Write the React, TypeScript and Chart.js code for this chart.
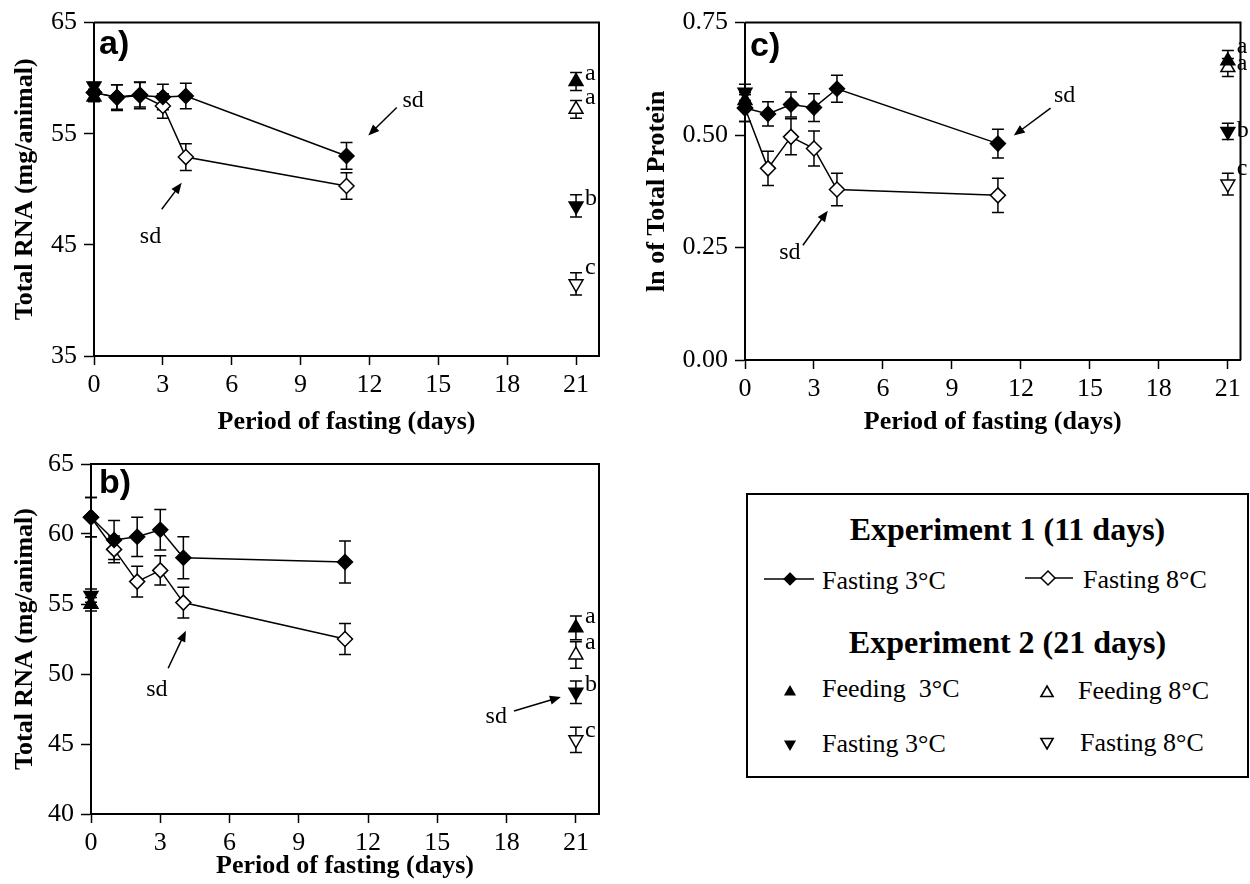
import React, { useEffect, useRef } from "react";
import { Chart, registerables } from "chart.js";
Chart.register(...registerables);

const SERIF = '"Liberation Serif", "Times New Roman", Times, serif';
const SANS = '"Liberation Sans", Arial, Helvetica, sans-serif';

// ---- data ----
const exp1Days = [0, 1, 2, 3, 4, 11];
const exp2DaysFilled = [0, 21];
const exp2DaysOpen = [21];
const lastDay = 21;

// panel a) Total RNA (mg/animal)
const aFast3 = [58.7, 58.25, 58.45, 58.3, 58.4, 53.0];
const aFast3Err = [0.8, 1.15, 1.2, 1.15, 1.15, 1.2];
const aFast8 = [58.7, 58.3, 58.5, 57.5, 52.9, 50.3];
const aFast8Err = [0.8, 1.1, 1.1, 1.1, 1.2, 1.2];
const aFeed3 = [58.3, 59.7];
const aFeed3Err = [0.3, 0.8];
const aFeed8 = [57.2];
const aFeed8Err = [0.8];
const aFastE3 = [59.3, 48.5];
const aFastE3Err = [0.3, 1.0];
const aFastE8 = [41.5];
const aFastE8Err = [1.0];
const aLetters = ["a", "a", "b", "c"];
const aLetterY = [59.87, 57.65, 48.6, 42.35];
const aSdText = [[13.9, 58.0], [2.46, 45.7]];
const aSdFrom = [[13.19, 57.36], [2.95, 48.21]];
const aSdTo = [[11.95, 54.85], [3.82, 50.58]];

// panel b) Total RNA (mg/animal)
const bFast3 = [61.2, 59.57, 59.8, 60.3, 58.3, 58.0];
const bFast3Err = [1.4, 1.4, 1.4, 1.45, 1.5, 1.5];
const bFast8 = [61.2, 58.9, 56.6, 57.4, 55.1, 52.5];
const bFast8Err = [1.4, 0.95, 1.1, 1.05, 1.1, 1.1];
const bFeed3 = [54.98, 53.3];
const bFeed3Err = [0.48, 0.85];
const bFeed8 = [51.36];
const bFeed8Err = [0.95];
const bFastE3 = [55.6, 48.7];
const bFastE3Err = [0.48, 0.8];
const bFastE8 = [45.3];
const bFastE8Err = [0.9];
const bLetters = ["a", "a", "b", "c"];
const bLetterY = [53.64, 51.79, 48.79, 45.5];
const bSdText = [[2.85, 48.86], [17.55, 46.93]];
const bSdFrom = [[3.34, 50.41], [18.32, 47.36]];
const bSdTo = [[4.11, 53.09], [20.35, 48.36]];

// panel c) ln of Total Protein
const cFast3 = [0.56, 0.547, 0.568, 0.561, 0.603, 0.481];
const cFast3Err = [0.03, 0.027, 0.028, 0.031, 0.03, 0.032];
const cFast8 = [0.56, 0.426, 0.496, 0.47, 0.379, 0.366];
const cFast8Err = [0.03, 0.038, 0.04, 0.039, 0.036, 0.038];
const cFeed3 = [0.577, 0.665];
const cFeed3Err = [0.018, 0.023];
const cFeed8 = [0.65];
const cFeed8Err = [0.02];
const cFastE3 = [0.595, 0.508];
const cFastE3Err = [0.018, 0.018];
const cFastE8 = [0.391];
const cFastE8Err = [0.024];
const cLetters = ["a", "a", "b", "c"];
const cLetterY = [0.682, 0.645, 0.496, 0.411];
const cSdText = [[1.95, 0.238], [13.9, 0.588]];
const cSdFrom = [[2.52, 0.255], [13.29, 0.56]];
const cSdTo = [[3.6, 0.332], [11.69, 0.499]];

const xTitle = "Period of fasting (days)";

// ---- helpers ----
function pts(xs: number[], ys: number[]) {
  return xs.map((x, i) => ({ x, y: ys[i] }));
}

const decorPlugin = {
  id: "decor",
  beforeDatasetsDraw(chart: any) {
    const ctx = chart.ctx;
    const xS = chart.scales.x;
    const yS = chart.scales.y;
    ctx.save();
    ctx.strokeStyle = "#000";
    ctx.lineWidth = 1.5;
    chart.data.datasets.forEach((ds: any) => {
      if (!ds.errors) return;
      ds.data.forEach((p: any, j: number) => {
        const e = ds.errors[j];
        if (!e) return;
        const px = xS.getPixelForValue(p.x);
        const y1 = yS.getPixelForValue(p.y + e);
        const y2 = yS.getPixelForValue(p.y - e);
        ctx.beginPath();
        ctx.moveTo(px, y1);
        ctx.lineTo(px, y2);
        ctx.moveTo(px - 6, y1);
        ctx.lineTo(px + 6, y1);
        ctx.moveTo(px - 6, y2);
        ctx.lineTo(px + 6, y2);
        ctx.stroke();
      });
    });
    ctx.restore();
  },
  afterDraw(chart: any, _args: any, opts: any) {
    const ctx = chart.ctx;
    const xS = chart.scales.x;
    const yS = chart.scales.y;
    const area = chart.chartArea;
    ctx.save();
    // frame top & right
    ctx.strokeStyle = "#000";
    ctx.lineWidth = 2;
    ctx.beginPath();
    ctx.moveTo(area.left, area.top);
    ctx.lineTo(area.right, area.top);
    ctx.lineTo(area.right, area.bottom);
    ctx.stroke();
    // panel label
    ctx.fillStyle = "#000";
    ctx.font = `bold 34px ${SANS}`;
    ctx.textAlign = "left";
    ctx.textBaseline = "alphabetic";
    ctx.fillText(opts.label, area.left + opts.labelDx, area.top + opts.labelDy);
    // significance letters
    ctx.font = `24px ${SERIF}`;
    (opts.letters as string[]).forEach((t, i) => {
      ctx.fillText(t, xS.getPixelForValue(lastDay) + 9, yS.getPixelForValue(opts.letterY[i]));
    });
    // sd annotations
    ctx.textAlign = "center";
    ctx.textBaseline = "middle";
    (opts.sdText as number[][]).forEach((tp, i) => {
      ctx.font = `24px ${SERIF}`;
      ctx.fillText("sd", xS.getPixelForValue(tp[0]), yS.getPixelForValue(tp[1]));
      const x1 = xS.getPixelForValue(opts.sdFrom[i][0]);
      const y1 = yS.getPixelForValue(opts.sdFrom[i][1]);
      const x2 = xS.getPixelForValue(opts.sdTo[i][0]);
      const y2 = yS.getPixelForValue(opts.sdTo[i][1]);
      const ang = Math.atan2(y2 - y1, x2 - x1);
      const hl = 11;
      const hw = 4.5;
      ctx.lineWidth = 1.5;
      ctx.beginPath();
      ctx.moveTo(x1, y1);
      ctx.lineTo(x2 - Math.cos(ang) * hl * 0.8, y2 - Math.sin(ang) * hl * 0.8);
      ctx.stroke();
      const bx = x2 - Math.cos(ang) * hl;
      const by = y2 - Math.sin(ang) * hl;
      ctx.beginPath();
      ctx.moveTo(x2, y2);
      ctx.lineTo(bx - Math.sin(ang) * hw, by + Math.cos(ang) * hw);
      ctx.lineTo(bx + Math.sin(ang) * hw, by - Math.cos(ang) * hw);
      ctx.closePath();
      ctx.fill();
    });
    ctx.restore();
  },
};

type Spec = {
  fast3: number[]; fast3Err: number[];
  fast8: number[]; fast8Err: number[];
  feed3: number[]; feed3Err: number[];
  feed8: number[]; feed8Err: number[];
  fastE3: number[]; fastE3Err: number[];
  fastE8: number[]; fastE8Err: number[];
  letters: string[]; letterY: number[];
  sdText: number[][]; sdFrom: number[][]; sdTo: number[][];
  yMin: number; yMax: number; yStep: number; decimals: number;
  xMax: number; yTitle: string; label: string; labelDx: number; labelDy: number;
  padTop: number; padRight: number; yWidth: number; xHeight: number; yTitlePad: number; xTitlePad: number;
};

function makeConfig(s: Spec): any {
  const common = { clip: false, borderColor: "#000", pointBorderColor: "#000", pointBorderWidth: 1.5, pointHoverRadius: 8 };
  const diamond = { ...common, showLine: true, borderWidth: 1.5, pointStyle: "rectRot", pointRadius: 7.5 };
  const tri = { ...common, showLine: false, pointStyle: "triangle", pointRadius: 8 };
  const tickFont = { family: SERIF, size: 26 };
  const titleFont = { family: SERIF, size: 26, weight: "bold", lineHeight: 1 };
  return {
    type: "scatter",
    data: {
      datasets: [
        { ...diamond, label: "Fasting 3°C", data: pts(exp1Days, s.fast3), errors: s.fast3Err, pointBackgroundColor: "#000" },
        { ...diamond, label: "Fasting 8°C", data: pts(exp1Days, s.fast8), errors: s.fast8Err, pointBackgroundColor: "#fff" },
        { ...tri, label: "Feeding 3°C", data: pts(exp2DaysFilled, s.feed3), errors: s.feed3Err, pointBackgroundColor: "#000" },
        { ...tri, label: "Feeding 8°C", data: pts(exp2DaysOpen, s.feed8), errors: s.feed8Err, pointBackgroundColor: "#fff" },
        { ...tri, label: "Fasting 3°C (exp. 2)", data: pts(exp2DaysFilled, s.fastE3), errors: s.fastE3Err, pointBackgroundColor: "#000", pointRotation: 180 },
        { ...tri, label: "Fasting 8°C (exp. 2)", data: pts(exp2DaysOpen, s.fastE8), errors: s.fastE8Err, pointBackgroundColor: "#fff", pointRotation: 180 },
      ],
    },
    options: {
      responsive: false,
      animation: false,
      events: [],
      layout: { padding: { top: s.padTop, right: s.padRight, bottom: 0, left: 0 } },
      plugins: {
        legend: { display: false },
        tooltip: { enabled: false },
        decor: {
          label: s.label, labelDx: s.labelDx, labelDy: s.labelDy,
          letters: s.letters, letterY: s.letterY,
          sdText: s.sdText, sdFrom: s.sdFrom, sdTo: s.sdTo,
        },
      },
      scales: {
        x: {
          type: "linear",
          min: 0,
          max: s.xMax,
          ticks: { stepSize: 3, includeBounds: false, font: tickFont, color: "#000", padding: 5, maxRotation: 0, autoSkip: false },
          grid: { drawOnChartArea: false, tickLength: 9, tickColor: "#000", tickWidth: 1.5, color: "#000" },
          border: { color: "#000", width: 2 },
          title: { display: true, text: xTitle, font: titleFont, color: "#000", padding: { top: 0, bottom: s.xTitlePad } },
          afterFit: (sc: any) => { sc.height = s.xHeight; },
        },
        y: {
          type: "linear",
          min: s.yMin,
          max: s.yMax,
          ticks: {
            stepSize: s.yStep, includeBounds: false, font: tickFont, color: "#000", padding: 7,
            callback: (v: any) => Number(v).toFixed(s.decimals),
          },
          grid: { drawOnChartArea: false, tickLength: 10, tickColor: "#000", tickWidth: 1.5, color: "#000" },
          border: { color: "#000", width: 2 },
          title: { display: true, text: s.yTitle, font: titleFont, color: "#000", padding: { top: s.yTitlePad, bottom: 0 } },
          afterFit: (sc: any) => { sc.width = s.yWidth; },
        },
      },
    },
    plugins: [decorPlugin],
  };
}

function Panel({ spec, left, top, width, height }: { spec: Spec; left: number; top: number; width: number; height: number }) {
  const ref = useRef<HTMLCanvasElement>(null);
  useEffect(() => {
    const chart = new Chart(ref.current as HTMLCanvasElement, makeConfig(spec));
    return () => chart.destroy();
  }, []);
  return (
    <div style={{ position: "absolute", left, top, width, height }}>
      <canvas ref={ref} width={width} height={height} style={{ width, height, display: "block" }} />
    </div>
  );
}

const specA: Spec = {
  fast3: aFast3, fast3Err: aFast3Err, fast8: aFast8, fast8Err: aFast8Err,
  feed3: aFeed3, feed3Err: aFeed3Err, feed8: aFeed8, feed8Err: aFeed8Err,
  fastE3: aFastE3, fastE3Err: aFastE3Err, fastE8: aFastE8, fastE8Err: aFastE8Err,
  letters: aLetters, letterY: aLetterY, sdText: aSdText, sdFrom: aSdFrom, sdTo: aSdTo,
  yMin: 35, yMax: 65, yStep: 10, decimals: 0, xMax: 22,
  yTitle: "Total RNA (mg/animal)", label: "a)", labelDx: 5, labelDy: 31,
  padTop: 17, padRight: 21, yWidth: 94, xHeight: 84, yTitlePad: 12, xTitlePad: 5,
};

const specB: Spec = {
  fast3: bFast3, fast3Err: bFast3Err, fast8: bFast8, fast8Err: bFast8Err,
  feed3: bFeed3, feed3Err: bFeed3Err, feed8: bFeed8, feed8Err: bFeed8Err,
  fastE3: bFastE3, fastE3Err: bFastE3Err, fastE8: bFastE8, fastE8Err: bFastE8Err,
  letters: bLetters, letterY: bLetterY, sdText: bSdText, sdFrom: bSdFrom, sdTo: bSdTo,
  yMin: 40, yMax: 65, yStep: 5, decimals: 0, xMax: 22,
  yTitle: "Total RNA (mg/animal)", label: "b)", labelDx: 8, labelDy: 29,
  padTop: 24, padRight: 21, yWidth: 91, xHeight: 70, yTitlePad: 12, xTitlePad: 5,
};

const specC: Spec = {
  fast3: cFast3, fast3Err: cFast3Err, fast8: cFast8, fast8Err: cFast8Err,
  feed3: cFeed3, feed3Err: cFeed3Err, feed8: cFeed8, feed8Err: cFeed8Err,
  fastE3: cFastE3, fastE3Err: cFastE3Err, fastE8: cFastE8, fastE8Err: cFastE8Err,
  letters: cLetters, letterY: cLetterY, sdText: cSdText, sdFrom: cSdFrom, sdTo: cSdTo,
  yMin: 0, yMax: 0.75, yStep: 0.25, decimals: 2, xMax: 21.55,
  yTitle: "ln of Total Protein", label: "c)", labelDx: 5, labelDy: 33,
  padTop: 17, padRight: 7, yWidth: 115, xHeight: 80, yTitlePad: 14, xTitlePad: 5,
};

function tri(cx: number, cy: number, r: number, down: boolean) {
  const s = down ? -1 : 1;
  const hw = r * Math.sqrt(3) / 2;
  return `${cx},${cy - s * r} ${cx + hw},${cy + s * r / 2} ${cx - hw},${cy + s * r / 2}`;
}
function dia(cx: number, cy: number, r: number) {
  return `${cx},${cy - r} ${cx + r},${cy} ${cx},${cy + r} ${cx - r},${cy}`;
}

function Legend() {
  const txt: React.CSSProperties = { position: "absolute", fontSize: 26, lineHeight: "26px", whiteSpace: "pre", fontFamily: SERIF };
  const head: React.CSSProperties = { position: "absolute", left: 0, width: 519, textAlign: "center", fontSize: 32, lineHeight: "32px", fontWeight: "bold", whiteSpace: "pre", fontFamily: SERIF };
  return (
    <div style={{ position: "absolute", left: 746, top: 493, width: 503, height: 285, border: "2px solid #000", boxSizing: "border-box", color: "#000", background: "#fff" }}>
      <svg width={499} height={281} style={{ position: "absolute", left: 0, top: 0 }}>
        <line x1={16} y1={84} x2={66} y2={84} stroke="#000" strokeWidth={1.5} />
        <polygon points={dia(42, 84, 6)} fill="#000" stroke="#000" strokeWidth={1.2} />
        <line x1={277} y1={83} x2={325} y2={83} stroke="#000" strokeWidth={1.5} />
        <polygon points={dia(300, 83, 7)} fill="#fff" stroke="#000" strokeWidth={1.5} />
        <polygon points={tri(42, 197, 7, false)} fill="#000" />
        <polygon points={tri(299, 198, 7, false)} fill="#fff" stroke="#000" strokeWidth={1.6} />
        <polygon points={tri(42, 249, 7, true)} fill="#000" />
        <polygon points={tri(299, 247, 7, true)} fill="#fff" stroke="#000" strokeWidth={1.6} />
      </svg>
      <div style={{ ...head, top: 18 }}>Experiment 1 (11 days)</div>
      <div style={{ ...txt, left: 74, top: 73 }}>Fasting 3°C</div>
      <div style={{ ...txt, left: 335, top: 72 }}>Fasting 8°C</div>
      <div style={{ ...head, top: 131 }}>Experiment 2 (21 days)</div>
      <div style={{ ...txt, left: 74, top: 181 }}>{"Feeding  3°C"}</div>
      <div style={{ ...txt, left: 330, top: 183 }}>Feeding 8°C</div>
      <div style={{ ...txt, left: 74, top: 236 }}>Fasting 3°C</div>
      <div style={{ ...txt, left: 332, top: 235 }}>Fasting 8°C</div>
    </div>
  );
}

export default function App() {
  return (
    <div style={{ position: "absolute", left: 0, top: 0, width: 1250, height: 884, background: "#fff", overflow: "hidden", fontFamily: SERIF }}>
      <Panel spec={specA} left={0} top={0} width={620} height={440} />
      <Panel spec={specC} left={630} top={0} width={620} height={440} />
      <Panel spec={specB} left={0} top={440} width={620} height={444} />
      <Legend />
    </div>
  );
}
